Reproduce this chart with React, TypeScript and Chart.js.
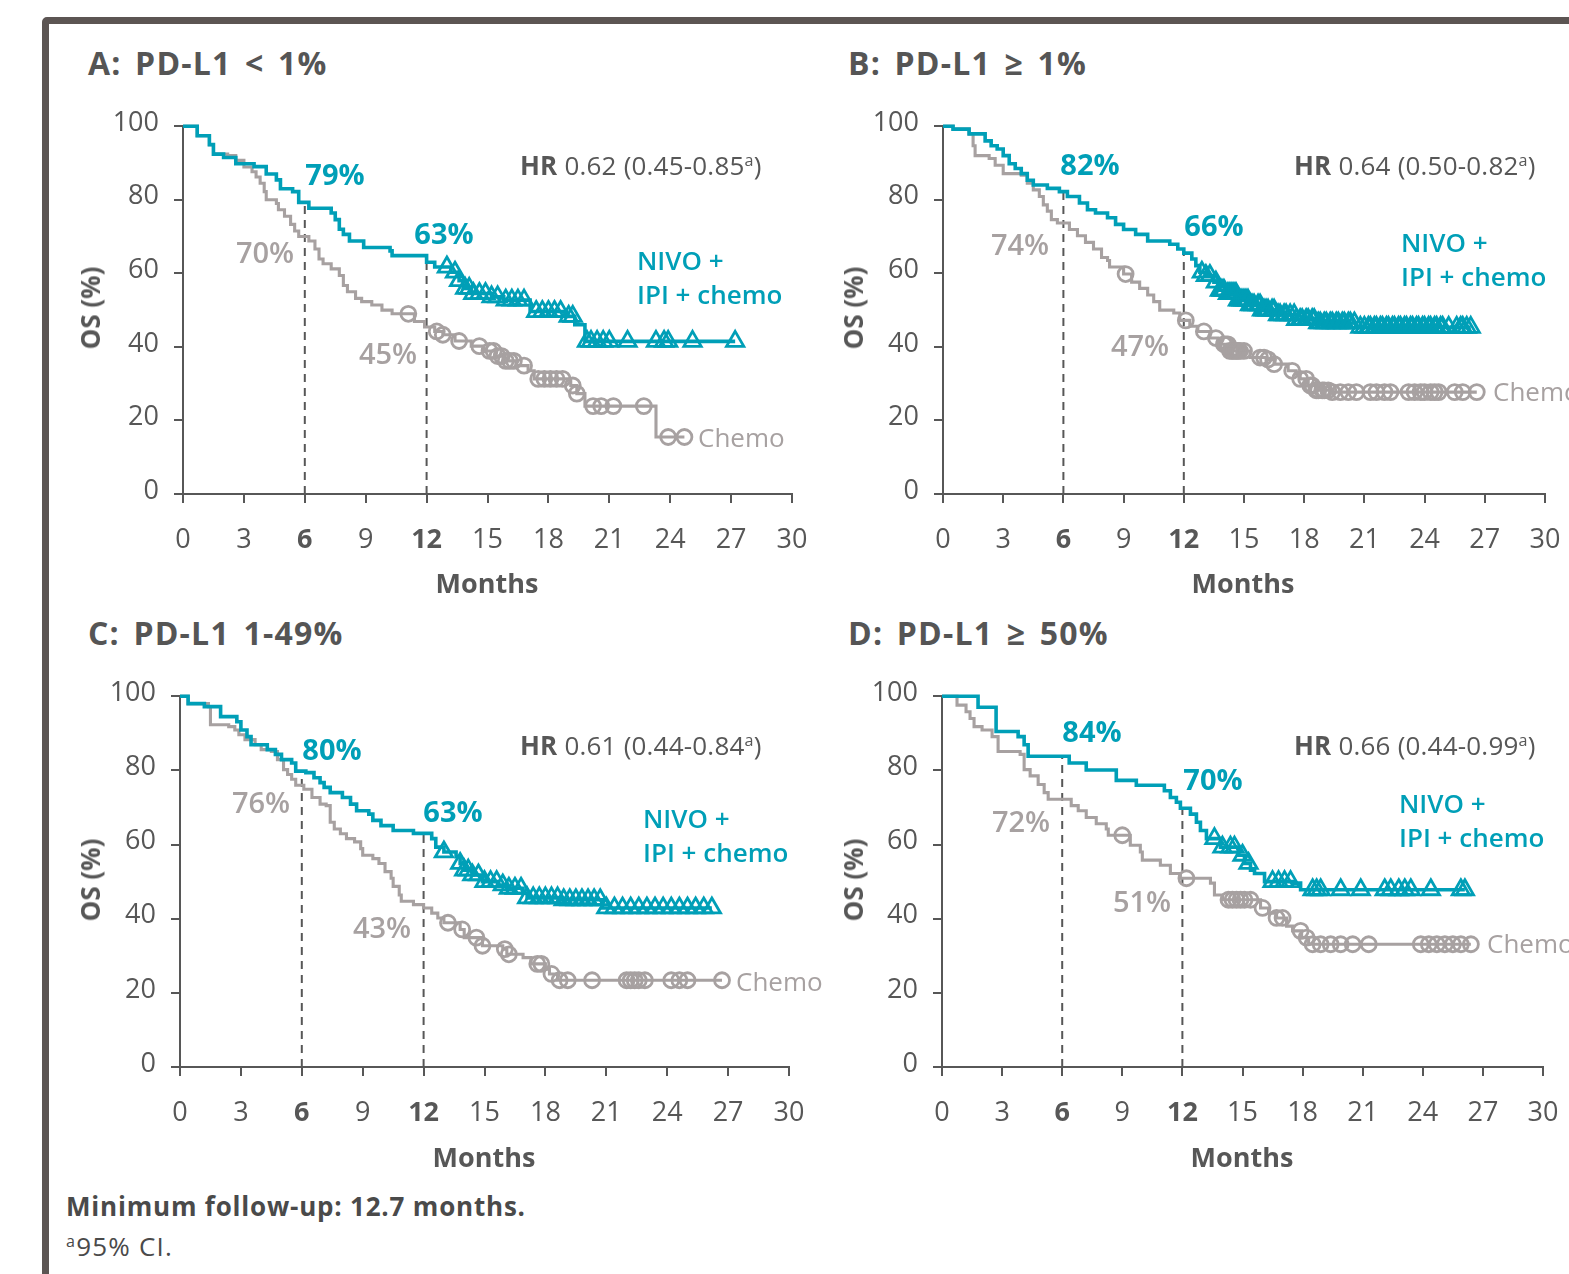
import React, { useEffect, useRef } from 'react';
import { Chart, registerables } from 'chart.js';
Chart.register(...registerables);

const TEAL = '#009fb7';
const GRAY = '#a7a1a1';
const INK = '#575757';
const FONT = "'Open Sans', 'DejaVu Sans', sans-serif";

const X_MIN = 0, X_MAX = 30, X_STEP = 3;
const Y_MIN = 0, Y_MAX = 100, Y_STEP = 20;
const BOLD_X_TICKS = [6, 12];
const LANDMARKS = [6, 12];

// ---------- Panel A: PD-L1 < 1% ----------
const A_NIVO_T = [0, 0.7, 1.3, 1.5, 2.0, 2.6, 3.5, 4.1, 4.6, 4.8, 5.4, 5.7, 6.2, 7.3, 7.5, 7.7, 7.9, 8.2, 8.9, 10.2, 10.3, 12.0, 12.4, 13.2, 13.6, 13.8, 14.2, 15.2, 15.8, 17.1, 18.9, 19.3, 19.8, 27.2];
const A_NIVO_S = [100, 97.4, 95, 92.4, 91.5, 89.8, 89, 87, 85.4, 83, 82.2, 79.3, 77.7, 76.4, 74.6, 72, 70.6, 68.8, 67, 66.1, 64.8, 63, 61.7, 60.3, 58, 55.9, 54.5, 53.6, 52.7, 49.6, 48.3, 46, 41.5, 41.5];
const A_NIVO_CENS = [13.0, 13.4, 13.6, 13.9, 14.1, 14.3, 14.6, 14.9, 15.2, 15.5, 15.9, 16.2, 16.5, 16.8, 17.4, 17.7, 18.0, 18.3, 18.6, 19.0, 19.2, 19.9, 20.1, 20.4, 20.7, 21.0, 21.9, 23.3, 23.7, 23.9, 25.1, 27.2];
const A_CHEMO_T = [0, 0.7, 1.3, 1.5, 2.2, 2.6, 3.0, 3.4, 3.6, 3.8, 4.0, 4.1, 4.6, 4.7, 5.0, 5.3, 5.5, 5.7, 6.2, 6.5, 6.7, 6.9, 7.3, 7.7, 7.9, 8.1, 8.5, 8.8, 9.3, 9.8, 10.3, 11.4, 11.9, 12.4, 12.8, 13.4, 14.2, 14.8, 15.4, 15.8, 16.4, 17.0, 17.3, 19.1, 19.4, 19.8, 23.3, 24.7];
const A_CHEMO_S = [100, 97.4, 95, 92.4, 92, 90.7, 88.9, 87.6, 86.2, 84.5, 82.2, 80, 79, 77.3, 75.5, 73.3, 71.5, 70, 68.8, 66.6, 63.9, 62.6, 61.2, 59.4, 56.7, 55, 53.2, 52.3, 51.4, 50, 49, 46.9, 45.4, 44.2, 43.3, 41.6, 40.2, 38.9, 37.5, 36.2, 34.9, 33.5, 31.3, 29.5, 27.3, 23.9, 15.5, 15.5];
const A_CHEMO_CENS = [11.1, 12.5, 12.8, 13.6, 14.6, 15.1, 15.3, 15.5, 15.7, 15.9, 16.1, 16.3, 16.8, 17.5, 17.8, 18.1, 18.4, 18.7, 19.2, 19.4, 20.2, 20.6, 21.2, 22.7, 23.9, 24.7];
const A_PCT_NIVO = [79, 63];
const A_PCT_CHEMO = [70, 45];
const A_HR = ['0.62', '0.45-0.85'];

// ---------- Panel B: PD-L1 >= 1% ----------
const B_NIVO_T = [0, 0.5, 1.3, 2.1, 2.4, 2.7, 3.0, 3.3, 3.6, 3.9, 4.2, 4.5, 5.2, 5.8, 6.2, 6.8, 7.2, 7.6, 8.2, 8.6, 9.0, 9.6, 10.2, 11.3, 11.7, 12.0, 12.4, 12.6, 12.8, 13.1, 13.5, 13.8, 14.1, 14.7, 15.3, 15.9, 16.7, 17.6, 18.6, 20.6, 26.3];
const B_NIVO_S = [100, 99.2, 97.9, 96, 94.7, 93.8, 92, 89.8, 88.5, 87.1, 85.3, 84, 83.1, 82.2, 80.9, 79.1, 77.3, 76.4, 75.1, 73.3, 71.9, 70.6, 68.8, 67.9, 66.6, 65.5, 63.9, 62.1, 60.3, 59.4, 57.6, 55.4, 54.5, 52.7, 51.4, 50, 48.7, 47.4, 46.5, 45.3, 45.3];
const B_NIVO_CENS = [12.9, 13.1, 13.3, 13.6, 13.8, 13.9, 14.0, 14.2, 14.3, 14.4, 14.5, 14.6, 14.7, 14.8, 14.9, 15.0, 15.1, 15.2, 15.3, 15.4, 15.5, 15.7, 15.8, 15.9, 16.0, 16.1, 16.2, 16.4, 16.5, 16.7, 16.8, 17.0, 17.1, 17.3, 17.5, 17.6, 17.8, 17.9, 18.1, 18.2, 18.4, 18.5, 18.7, 18.8, 19.0, 19.1, 19.3, 19.4, 19.6, 19.7, 19.9, 20.0, 20.2, 20.3, 20.5, 20.8, 21.0, 21.2, 21.3, 21.5, 21.6, 21.8, 21.9, 22.1, 22.2, 22.4, 22.5, 22.7, 22.8, 23.0, 23.1, 23.3, 23.4, 23.6, 23.7, 23.9, 24.0, 24.2, 24.3, 24.5, 24.6, 24.8, 24.9, 25.2, 25.6, 25.8, 25.9, 26.1, 26.3];
const B_CHEMO_T = [0, 0.5, 1.3, 1.5, 1.6, 2.3, 2.6, 3.0, 3.9, 4.2, 4.5, 4.8, 5.0, 5.2, 5.4, 5.7, 6.3, 6.7, 7.1, 7.5, 7.9, 8.2, 8.3, 9.0, 9.4, 9.8, 10.2, 10.5, 10.8, 11.5, 11.8, 12.3, 12.7, 13.3, 13.7, 14.3, 15.3, 16.1, 16.5, 17.2, 17.6, 17.8, 18.2, 18.6, 19.4, 26.6];
const B_CHEMO_S = [100, 99.2, 97.9, 94.7, 92, 91.2, 89.4, 87.1, 86.7, 84.5, 82.7, 80.9, 78.6, 76.9, 74.6, 73.7, 71.9, 70.2, 68.4, 66.6, 64.3, 63.5, 61.7, 59.8, 57.6, 55.9, 54.1, 52.3, 50, 49.2, 47.2, 45.6, 44.2, 42.4, 40.7, 38.9, 37.1, 36.6, 35.3, 33.5, 32.6, 31.3, 29.5, 28.2, 27.7, 27.7];
const B_CHEMO_CENS = [9.1, 12.1, 13.0, 13.6, 14.0, 14.1, 14.2, 14.3, 14.4, 14.5, 14.6, 14.7, 14.8, 15.0, 15.8, 16.0, 16.2, 16.5, 17.4, 17.8, 18.1, 18.3, 18.4, 18.6, 18.7, 18.9, 19.0, 19.2, 19.4, 19.8, 20.2, 20.6, 21.3, 21.6, 22.0, 22.3, 23.2, 23.5, 23.8, 24.0, 24.3, 24.5, 24.7, 25.5, 25.9, 26.6];
const B_PCT_NIVO = [82, 66];
const B_PCT_CHEMO = [74, 47];
const B_HR = ['0.64', '0.50-0.82'];

// ---------- Panel C: PD-L1 1-49% ----------
const C_NIVO_T = [0, 0.4, 1.2, 2.0, 2.8, 3.0, 3.3, 3.5, 4.3, 4.7, 5.0, 5.5, 5.7, 6.2, 6.6, 6.9, 7.1, 7.4, 8.0, 8.4, 8.7, 9.3, 9.5, 9.9, 10.5, 11.5, 12.4, 12.6, 13.0, 13.6, 13.8, 14.0, 14.4, 14.9, 15.7, 16.1, 16.9, 17.1, 18.8, 20.8, 26.2];
const C_NIVO_S = [100, 98, 97.2, 94.5, 93.1, 90.9, 89.1, 86.9, 85.6, 84.3, 82.9, 82, 79.8, 79.4, 78, 76.7, 75.4, 74, 72.7, 70.9, 69.1, 68.2, 66.5, 65.1, 63.8, 63.0, 61.6, 59.3, 58, 56.7, 54.9, 53.1, 51.8, 50, 49.1, 48.2, 46.9, 45.6, 45.1, 42.9, 42.9];
const C_NIVO_CENS = [13.0, 13.8, 14.0, 14.2, 14.4, 14.7, 15.0, 15.3, 15.6, 15.9, 16.2, 16.5, 16.8, 17.1, 17.4, 17.7, 18.0, 18.3, 18.6, 18.9, 19.2, 19.5, 19.8, 20.1, 20.4, 20.7, 21.0, 21.4, 21.8, 22.2, 22.6, 23.0, 23.4, 23.8, 24.2, 24.6, 25.0, 25.4, 25.8, 26.2];
const C_CHEMO_T = [0, 0.4, 1.4, 1.5, 2.4, 2.7, 2.9, 3.2, 3.7, 4.0, 4.5, 4.8, 5.1, 5.3, 5.5, 5.7, 6.1, 6.5, 6.9, 7.2, 7.4, 7.6, 7.9, 8.2, 8.6, 8.9, 9.0, 9.5, 9.8, 10.1, 10.4, 10.5, 10.8, 10.9, 11.5, 12.0, 12.4, 12.7, 13.0, 13.8, 14.0, 14.9, 15.9, 16.1, 16.9, 17.3, 18.0, 18.2, 18.6, 26.7];
const C_CHEMO_S = [100, 98, 97.2, 92.3, 91.8, 90.9, 89.6, 88.3, 86.9, 85.6, 85.1, 82.9, 80.2, 78.9, 77.6, 76, 74.9, 72.7, 70.9, 70.5, 66, 64.2, 62.9, 61.6, 60.7, 58.9, 57.1, 56.2, 54.9, 52.7, 50.9, 48.7, 46.4, 44.7, 43.8, 42.9, 41.5, 40.2, 38.9, 37.1, 34.9, 32.7, 31.8, 30.4, 29.5, 27.8, 26.4, 25.1, 23.4, 23.4];
const C_CHEMO_CENS = [13.2, 13.9, 14.6, 14.9, 16.0, 16.2, 17.6, 17.8, 18.3, 18.7, 19.1, 20.3, 22.0, 22.2, 22.4, 22.6, 22.9, 24.2, 24.6, 25.0, 26.7];
const C_PCT_NIVO = [80, 63];
const C_PCT_CHEMO = [76, 43];
const C_HR = ['0.61', '0.44-0.84'];

// ---------- Panel D: PD-L1 >= 50% ----------
const D_NIVO_T = [0, 1.8, 2.7, 3.8, 4.1, 4.3, 6.35, 7.2, 8.7, 9.7, 11.1, 11.4, 11.7, 11.9, 12.4, 12.7, 12.9, 13.2, 13.9, 14.8, 15.1, 15.4, 15.6, 16.1, 17.6, 17.9, 26.1];
const D_NIVO_S = [100, 97, 90.5, 89.1, 86.9, 83.8, 82, 80.1, 77.3, 76, 74.5, 72.7, 71.4, 69.8, 68.2, 66, 63.8, 61.6, 59.3, 57.1, 54.9, 53.1, 52.2, 50, 49.6, 47.8, 47.8];
const D_NIVO_CENS = [13.6, 14.0, 14.4, 14.6, 15.0, 15.3, 16.5, 16.8, 17.1, 17.4, 18.5, 18.7, 18.9, 19.9, 20.9, 22.1, 22.4, 22.8, 23.1, 23.4, 24.4, 25.9, 26.1];
const D_CHEMO_T = [0, 0.75, 1.2, 1.4, 1.6, 2.0, 2.5, 2.8, 3.9, 4.1, 4.4, 4.8, 5.1, 5.3, 6.45, 6.8, 7.2, 7.7, 8.2, 8.3, 9.4, 9.9, 10.0, 10.9, 11.4, 11.9, 13.4, 13.6, 14.0, 15.9, 16.3, 16.7, 17.2, 17.5, 17.95, 18.3, 26.4];
const D_CHEMO_S = [100, 97.6, 95.8, 94, 91.8, 90.9, 89.1, 85.1, 84.3, 80.2, 78.5, 76.2, 74, 72.2, 70.5, 69.1, 67.3, 65.6, 64.2, 62.5, 59.8, 58, 55.8, 54.4, 52.2, 50.9, 49.6, 46.4, 45.1, 42.9, 41.5, 40.2, 38, 36.7, 34.9, 33.1, 33.1];
const D_CHEMO_CENS = [9.0, 12.2, 14.3, 14.5, 14.7, 14.9, 15.1, 15.4, 16.0, 16.7, 17.0, 17.9, 18.2, 18.5, 18.9, 19.4, 19.9, 20.5, 21.3, 23.9, 24.3, 24.7, 25.1, 25.5, 25.9, 26.4];
const D_PCT_NIVO = [84, 70];
const D_PCT_CHEMO = [72, 51];
const D_HR = ['0.66', '0.44-0.99'];

const PANELS = [
  {
    title: 'A: PD-L1 < 1%',
    nivoT: A_NIVO_T, nivoS: A_NIVO_S, nivoC: A_NIVO_CENS,
    chemoT: A_CHEMO_T, chemoS: A_CHEMO_S, chemoC: A_CHEMO_CENS,
    pctNivo: A_PCT_NIVO, pctChemo: A_PCT_CHEMO, hr: A_HR,
    area: { L: 183, T: 122, R: 792, B: 494 },
    canvas: { x: 50, y: 95, w: 792, h: 490 },
    titlePos: [88, 63], osPos: [90, 308], monthsPos: [487, 582],
    nivoPctPos: [[335, 173], [444, 232]], chemoPctPos: [[265, 251], [388, 352]],
    hrPos: [520, 165], nivoLblPos: [637, 260], chemoLblPos: [698, 437],
  },
  {
    title: 'B: PD-L1 \u2265 1%',
    nivoT: B_NIVO_T, nivoS: B_NIVO_S, nivoC: B_NIVO_CENS,
    chemoT: B_CHEMO_T, chemoS: B_CHEMO_S, chemoC: B_CHEMO_CENS,
    pctNivo: B_PCT_NIVO, pctChemo: B_PCT_CHEMO, hr: B_HR,
    area: { L: 943, T: 121, R: 1545, B: 494 },
    canvas: { x: 810, y: 95, w: 785, h: 490 },
    titlePos: [848, 63], osPos: [853, 308], monthsPos: [1243, 582],
    nivoPctPos: [[1090, 163], [1214, 224]], chemoPctPos: [[1020, 243], [1140, 344]],
    hrPos: [1294, 165], nivoLblPos: [1401, 242], chemoLblPos: [1493, 391],
  },
  {
    title: 'C: PD-L1 1-49%',
    nivoT: C_NIVO_T, nivoS: C_NIVO_S, nivoC: C_NIVO_CENS,
    chemoT: C_CHEMO_T, chemoS: C_CHEMO_S, chemoC: C_CHEMO_CENS,
    pctNivo: C_PCT_NIVO, pctChemo: C_PCT_CHEMO, hr: C_HR,
    area: { L: 180, T: 692, R: 789, B: 1067 },
    canvas: { x: 50, y: 665, w: 789, h: 490 },
    titlePos: [88, 633], osPos: [90, 880], monthsPos: [484, 1156],
    nivoPctPos: [[332, 748], [453, 810]], chemoPctPos: [[261, 801], [382, 926]],
    hrPos: [520, 745], nivoLblPos: [643, 818], chemoLblPos: [736, 981],
  },
  {
    title: 'D: PD-L1 \u2265 50%',
    nivoT: D_NIVO_T, nivoS: D_NIVO_S, nivoC: D_NIVO_CENS,
    chemoT: D_CHEMO_T, chemoS: D_CHEMO_S, chemoC: D_CHEMO_CENS,
    pctNivo: D_PCT_NIVO, pctChemo: D_PCT_CHEMO, hr: D_HR,
    area: { L: 942, T: 692, R: 1543, B: 1067 },
    canvas: { x: 810, y: 665, w: 783, h: 490 },
    titlePos: [848, 633], osPos: [853, 880], monthsPos: [1242, 1156],
    nivoPctPos: [[1092, 730], [1213, 778]], chemoPctPos: [[1021, 820], [1142, 900]],
    hrPos: [1294, 745], nivoLblPos: [1399, 803], chemoLblPos: [1487, 943],
  },
];

function survAt(T: number[], S: number[], t: number) {
  let v = S[0];
  for (let i = 0; i < T.length; i++) if (T[i] <= t) v = S[i];
  return v;
}

function KMChart({ p }: { p: any }) {
  const ref = useRef<HTMLCanvasElement>(null);
  useEffect(() => {
    const { area, canvas } = p;
    const yW = area.L - canvas.x;
    const padTop = area.T - canvas.y;
    const padRight = canvas.x + canvas.w - area.R;
    const xH = canvas.y + canvas.h - area.B;
    const line = (T: number[], S: number[]) => T.map((t, i) => ({ x: t, y: S[i] }));
    const cens = (T: number[], S: number[], C: number[]) => C.map((t) => ({ x: t, y: survAt(T, S, t) }));
    const datasets: any[] = [
      {
        data: cens(p.nivoT, p.nivoS, p.nivoC), showLine: false, pointStyle: 'triangle',
        pointRadius: 10, pointBorderWidth: 2.8, pointBorderColor: TEAL, pointBackgroundColor: 'rgba(0,0,0,0)', clip: false,
      },
      {
        data: line(p.nivoT, p.nivoS), stepped: 'before', borderColor: TEAL, borderWidth: 3.6,
        pointRadius: 0, fill: false, clip: false,
      },
      {
        data: cens(p.chemoT, p.chemoS, p.chemoC), showLine: false, pointStyle: 'circle',
        pointRadius: 7.5, pointBorderWidth: 2.8, pointBorderColor: GRAY, pointBackgroundColor: 'rgba(0,0,0,0)', clip: false,
      },
      {
        data: line(p.chemoT, p.chemoS), stepped: 'before', borderColor: GRAY, borderWidth: 3.1,
        pointRadius: 0, fill: false, clip: false,
      },
      ...LANDMARKS.map((m, i) => ({
        data: [{ x: m, y: 0 }, { x: m, y: p.pctNivo[i] }], borderColor: INK, borderWidth: 2,
        borderDash: [8, 6], pointRadius: 0, fill: false, clip: false,
      })),
    ];
    const chart = new Chart(ref.current as HTMLCanvasElement, {
      type: 'line',
      data: { datasets },
      options: {
        animation: false,
        responsive: false,
        maintainAspectRatio: false,
        devicePixelRatio: 1,
        events: [],
        layout: { padding: { top: padTop, right: padRight, left: 0, bottom: 0 } },
        plugins: { legend: { display: false }, tooltip: { enabled: false } },
        scales: {
          x: {
            type: 'linear', min: X_MIN, max: X_MAX,
            ticks: {
              stepSize: X_STEP, autoSkip: false, maxRotation: 0, padding: 21, color: INK,
              font: (ctx: any) => ({ family: FONT, size: 27, weight: BOLD_X_TICKS.includes(ctx.tick && ctx.tick.value) ? 'bold' : 'normal' }),
            },
            grid: { drawOnChartArea: false, drawTicks: true, tickLength: 9, color: INK, lineWidth: 2 },
            border: { display: true, color: INK, width: 2 },
            afterFit: (s: any) => { s.height = xH; },
          },
          y: {
            type: 'linear', min: Y_MIN, max: Y_MAX,
            ticks: { stepSize: Y_STEP, padding: 15, labelOffset: -3, color: INK, font: { family: FONT, size: 27 } },
            grid: { drawOnChartArea: false, drawTicks: true, tickLength: 9, color: INK, lineWidth: 2 },
            border: { display: true, color: INK, width: 2 },
            afterFit: (s: any) => { s.width = yW; },
          },
        },
      } as any,
    });
    return () => chart.destroy();
  }, [p]);
  return (
    <canvas
      ref={ref}
      width={p.canvas.w}
      height={p.canvas.h}
      style={{ position: 'absolute', left: p.canvas.x, top: p.canvas.y, width: p.canvas.w, height: p.canvas.h }}
    />
  );
}

function Txt({ x, y, center, rotate, style, children }: any) {
  const tx = center ? '-50%' : '0';
  return (
    <div
      style={{
        position: 'absolute', left: x, top: y, whiteSpace: 'nowrap', lineHeight: 1,
        fontFamily: FONT, transform: `translate(${tx}, -50%)${rotate ? ' rotate(-90deg)' : ''}`,
        ...style,
      }}
    >
      {children}
    </div>
  );
}

const Sup = ({ children }: any) => (
  <span style={{ fontSize: '0.62em', position: 'relative', top: '-0.55em' }}>{children}</span>
);

function PanelText({ p }: { p: any }) {
  return (
    <>
      <Txt x={p.titlePos[0]} y={p.titlePos[1]} style={{ fontSize: 32, fontWeight: 700, color: '#555', letterSpacing: 1.2, wordSpacing: 4 }}>{p.title}</Txt>
      <Txt x={p.osPos[0]} y={p.osPos[1]} center rotate style={{ fontSize: 26, fontWeight: 700, color: INK }}>OS (%)</Txt>
      <Txt x={p.monthsPos[0]} y={p.monthsPos[1]} center style={{ fontSize: 27, fontWeight: 700, color: INK }}>Months</Txt>
      {p.pctNivo.map((v: number, i: number) => (
        <Txt key={'n' + i} x={p.nivoPctPos[i][0]} y={p.nivoPctPos[i][1]} center style={{ fontSize: 29, fontWeight: 700, color: TEAL }}>{v}%</Txt>
      ))}
      {p.pctChemo.map((v: number, i: number) => (
        <Txt key={'c' + i} x={p.chemoPctPos[i][0]} y={p.chemoPctPos[i][1]} center style={{ fontSize: 29, fontWeight: 600, color: GRAY }}>{v}%</Txt>
      ))}
      <Txt x={p.hrPos[0]} y={p.hrPos[1]} style={{ fontSize: 26, color: INK, letterSpacing: 0.2 }}>
        <b>HR</b> {p.hr[0]} ({p.hr[1]}<Sup>a</Sup>)
      </Txt>
      <Txt x={p.nivoLblPos[0]} y={p.nivoLblPos[1]} style={{ fontSize: 26, fontWeight: 600, color: TEAL }}>NIVO +</Txt>
      <Txt x={p.nivoLblPos[0]} y={p.nivoLblPos[1] + 34} style={{ fontSize: 26, fontWeight: 600, color: TEAL }}>IPI + chemo</Txt>
      <Txt x={p.chemoLblPos[0]} y={p.chemoLblPos[1]} style={{ fontSize: 26, color: GRAY }}>Chemo</Txt>
    </>
  );
}

export default function App() {
  return (
    <div style={{ position: 'fixed', left: 0, top: 0, width: 1569, height: 1274, overflow: 'hidden', background: '#fff' }}>
      <div
        style={{
          position: 'absolute', left: 42, top: 17, width: 1600, height: 1320,
          border: '7px solid #5c5553', borderRadius: 5, boxSizing: 'border-box',
        }}
      />
      {PANELS.map((p, i) => <KMChart key={i} p={p} />)}
      {PANELS.map((p, i) => <PanelText key={'t' + i} p={p} />)}
      <Txt x={66} y={1206} style={{ fontSize: 26, fontWeight: 700, color: '#4a4a4a', letterSpacing: 0.8 }}>Minimum follow-up: 12.7 months.</Txt>
      <Txt x={66} y={1246} style={{ fontSize: 26, color: '#4a4a4a', letterSpacing: 1.2 }}><Sup>a</Sup>95% CI.</Txt>
    </div>
  );
}
